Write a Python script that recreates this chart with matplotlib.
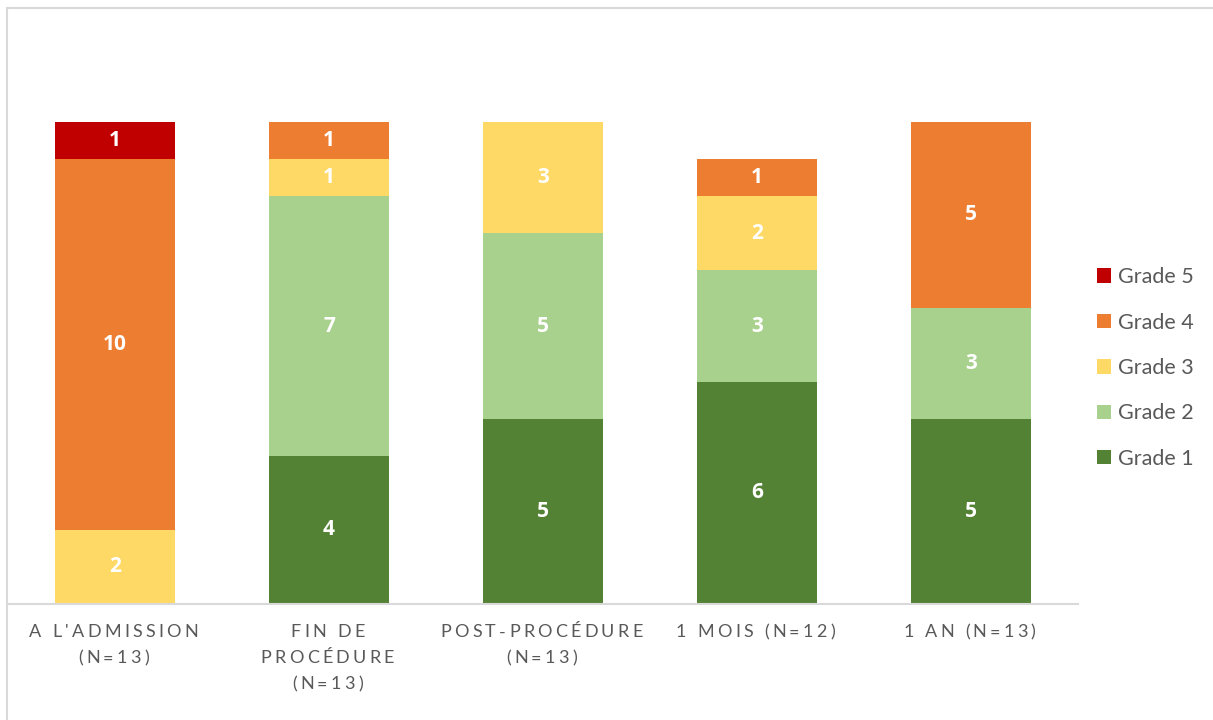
import matplotlib.pyplot as plt
import numpy as np
from matplotlib.patches import Rectangle
from matplotlib.textpath import TextToPath
from matplotlib.font_manager import FontProperties

plt.rcParams['font.family'] = ['Lato', 'DejaVu Sans']

categories = ["A L'ADMISSION\n(N=13)", "FIN DE\nPROCÉDURE\n(N=13)",
              "POST-PROCÉDURE\n(N=13)", "1 MOIS (N=12)", "1 AN (N=13)"]
grade1 = [0, 4, 5, 6, 5]
grade2 = [0, 7, 5, 3, 3]
grade3 = [2, 1, 3, 2, 0]
grade4 = [10, 1, 0, 1, 5]
grade5 = [1, 0, 0, 0, 0]

series = [("Grade 1", grade1, '#548235'),
          ("Grade 2", grade2, '#A9D18E'),
          ("Grade 3", grade3, '#FFD966'),
          ("Grade 4", grade4, '#ED7D31'),
          ("Grade 5", grade5, '#C00000')]

fig = plt.figure(figsize=(12.13, 7.2), dpi=100)
ax = fig.add_axes((8 / 1213, 116 / 720, 1070 / 1213, 593 / 720))

# light grey chart border
fig.patches.append(Rectangle((7 / 1213, -0.1), 1.2, (720 - 8) / 720 + 0.1,
                             transform=fig.transFigure, fill=False,
                             edgecolor='#D9D9D9', linewidth=1.5))

x = np.arange(len(categories))
bottom = np.zeros(len(categories))
handles = []
for name, vals, col in series:
    vals = np.array(vals, dtype=float)
    bars = ax.bar(x, vals, 0.56, bottom=bottom, color=col, label=name)
    handles.append(bars)
    for xi, b, v in zip(x, bottom, vals):
        if v > 0:
            ax.text(xi, b + v / 2, '%d' % v, ha='center', va='center',
                    color='white', fontsize=15, fontweight='bold',
                    family=['Open Sans', 'DejaVu Sans'])
    bottom += vals

ax.set_xlim(-0.5, len(categories) - 0.5)
ax.set_ylim(0, 16)
ax.set_yticks([])
ax.set_xticks(x)
ax.set_xticklabels([])
ax.tick_params(axis='x', length=0)
for s in ['top', 'right', 'left']:
    ax.spines[s].set_visible(False)
ax.spines['bottom'].set_color('#D9D9D9')
ax.spines['bottom'].set_linewidth(1.5)

# letter-spaced category labels (Excel style)
prop = FontProperties(family=['Lato', 'DejaVu Sans'], size=13)
ttp = TextToPath()
spacing = 2.3  # points between letters
line_h = 18.7  # points
for xi, lab in zip(x, categories):
    for li, line in enumerate(lab.split('\n')):
        widths = [ttp.get_text_width_height_descent(ch, prop, ismath=False)[0]
                  for ch in line]
        total = sum(widths) + spacing * len(line)
        off = -total / 2
        for ch, w in zip(line, widths):
            ax.annotate(ch, (xi, 0), xycoords=('data', 'axes fraction'),
                        xytext=(off, -20.5 - li * line_h), textcoords='offset points',
                        ha='left', va='center', fontproperties=prop,
                        color='#595959', annotation_clip=False)
            off += w + spacing

leg = fig.legend(handles[::-1], [s[0] for s in series][::-1],
                 loc='center left', bbox_to_anchor=(1078 / 1213, (720 - 368) / 720),
                 frameon=False, fontsize=15.5, handlelength=0.65, handleheight=0.65,
                 handletextpad=0.3, labelspacing=1.18)
for t in leg.get_texts():
    t.set_color('#595959')

plt.savefig('out.png', dpi=100)
